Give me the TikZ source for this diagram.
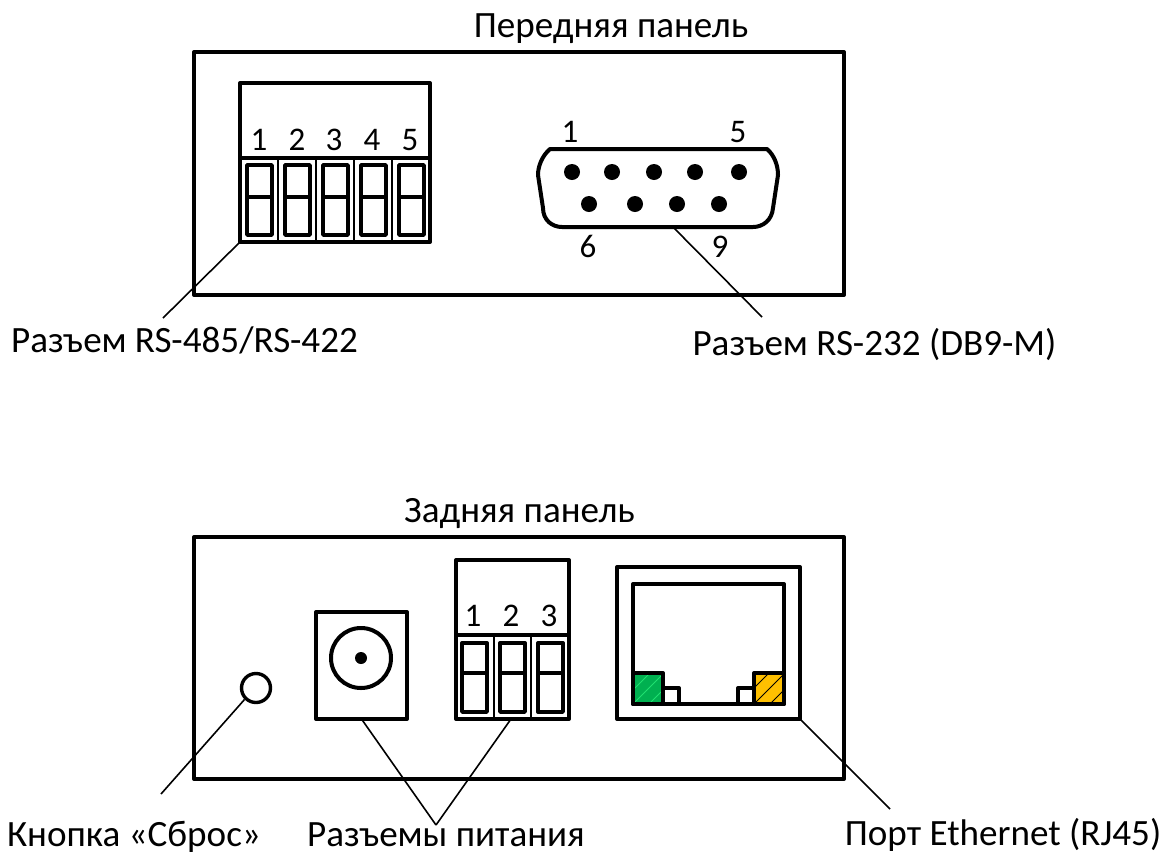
\documentclass[tikz,border=0pt]{standalone}
\usepackage{fontspec}
\setmainfont{Carlito}
\definecolor{ledgreen}{HTML}{00B050}
\definecolor{ledstripe}{HTML}{20E070}
\definecolor{ledyellow}{HTML}{FFC000}
\tikzset{
  heavy/.style={draw=black,line width=4pt,line join=round},
  mid/.style={draw=black,line width=3.4pt,line join=round},
  thin cell/.style={draw=black,line width=2.4pt},
  leader/.style={draw=black,line width=1.6pt},
  cap text/.style={font=\fontsize{37.1}{37.1}\selectfont,inner sep=0pt,anchor=base},
  pin text/.style={font=\fontsize{33}{33}\selectfont,inner sep=0pt,anchor=base},
  box/.style={heavy,minimum width=#1,inner sep=0pt,outer sep=0pt,anchor=north west},
  pinhole/.style={circle,fill=black,inner sep=0pt,minimum size=16pt},
}
\begin{document}
\begin{tikzpicture}[x=1pt,y=-1pt]
\useasboundingbox (0,0) rectangle (1164,855);
% titles
\node[cap text] (tfront) at (611,37) {Передняя панель};
\node[cap text] (tback) at (519.5,522) {Задняя панель};
% panels
\node[box=650pt,minimum height=243pt] (front) at (194,52) {};
\node[box=650pt,minimum height=242pt] (back) at (194,537) {};
% front terminal block
\node[box=190pt,minimum height=159pt] (tb5) at (240,83) {};
\draw[heavy] (240,158) -- (430,158);
\foreach \i/\x in {1/259,2/297,3/334,4/372,5/410}
  \node[pin text] (fd\i) at (\x,150) {\i};
\foreach \x in {278,316,354,392}
  \draw[thin cell] (\x,158) -- (\x,242);
\foreach \x in {247,285,323,361,399}{
  \draw[mid] (\x,165) rectangle (\x+25,235);
  \draw[mid] (\x,197) -- (\x+25,197);
}
% DB9
\path (673,227) coordinate (db9b);
\draw[heavy] (550,149) -- (767,149) .. controls (774,155) and (778,165) .. (778,175)
  -- (773,208) .. controls (772,220) and (763,227) .. (753,227)
  -- (562,227) .. controls (552,227) and (543,220) .. (543,208)
  -- (538,175) .. controls (538,165) and (543,155) .. (550,149) -- cycle;
\foreach \n/\x/\y in {a/572/172,b/612/172,c/654/172,d/695/172,e/739/172,f/589/204,g/635/204,h/677/204,i/719/204}
  \node[pinhole] (p\n) at (\x,\y) {};
\node[pin text] (d1) at (570,142) {1};
\node[pin text] (d5) at (738,142) {5};
\node[pin text] (d6) at (588,257) {6};
\node[pin text] (d9) at (720,257) {9};
% front labels
\node[cap text] (lrs485) at (184.5,352) {Разъем RS-485/RS-422};
\node[cap text] (lrs232) at (874.5,355) {Разъем RS-232 (DB9-M)};
\coordinate (e1) at (163,318);
\coordinate (e2) at (762,317);
\draw[leader] (tb5.south west) -- (e1);
\draw[leader] (db9b) -- (e2);
% button
\node[circle,mid,minimum size=29pt,inner sep=0pt] (btn) at (256,688) {};
% jack
\node[box=91pt,minimum height=107pt] (jack) at (316,612) {};
\draw[heavy] (361,658) circle (30);
\node[circle,fill=black,inner sep=0pt,minimum size=12pt] (jackpin) at (361,658) {};
% rear terminal block
\node[box=113pt,minimum height=159pt] (tb3) at (456,560) {};
\draw[heavy] (456,635) -- (569,635);
\foreach \i/\x in {1/473,2/511,3/549}
  \node[pin text] (rd\i) at (\x,626) {\i};
\foreach \x in {494,531}
  \draw[thin cell] (\x,635) -- (\x,719);
\foreach \x in {462,500,538}{
  \draw[mid] (\x,643) rectangle (\x+25,712);
  \draw[mid] (\x,673) -- (\x+25,673);
}
% RJ45
\node[box=183pt,minimum height=152pt] (rj) at (617,567) {};
\draw[heavy] (633,584) rectangle (784,704);
\fill[ledgreen] (633,673) rectangle (663,704);
\begin{scope}
  \clip (633,673) rectangle (663,704);
  \foreach \d in {0,16,32}
    \draw[ledstripe,line width=1pt] (633+\d,704) -- (663+\d,674);
  \draw[ledstripe,line width=1pt] (619,704) -- (649,674);
\end{scope}
\draw[heavy] (633,673) rectangle (663,704);
\fill[ledyellow] (754,673) rectangle (784,704);
\begin{scope}
  \clip (754,673) rectangle (784,704);
  \foreach \d in {-16,0,16}
    \draw[black,line width=1pt] (754+\d,704) -- (784+\d,674);
\end{scope}
\draw[heavy] (754,673) rectangle (784,704);
\draw[mid] (663,688) rectangle (679,704);
\draw[mid] (738,688) rectangle (754,704);
% back labels
\node[cap text] (lbtn) at (134,846.5) {Кнопка «Сброс»};
\node[cap text] (lpow) at (446,846.5) {Разъемы питания};
\node[cap text] (leth) at (1003,845.5) {Порт Ethernet (RJ45)};
\coordinate (e3) at (161,794);
\coordinate (e4) at (436,825);
\coordinate (e5) at (890,809);
\coordinate (pw) at (511,719);
\draw[leader] (btn.225) -- (e3);
\draw[leader] (jack.south) -- (e4);
\draw[leader] (pw) -- (e4);
\draw[leader] (rj.south east) -- (e5);
\end{tikzpicture}
\end{document}
